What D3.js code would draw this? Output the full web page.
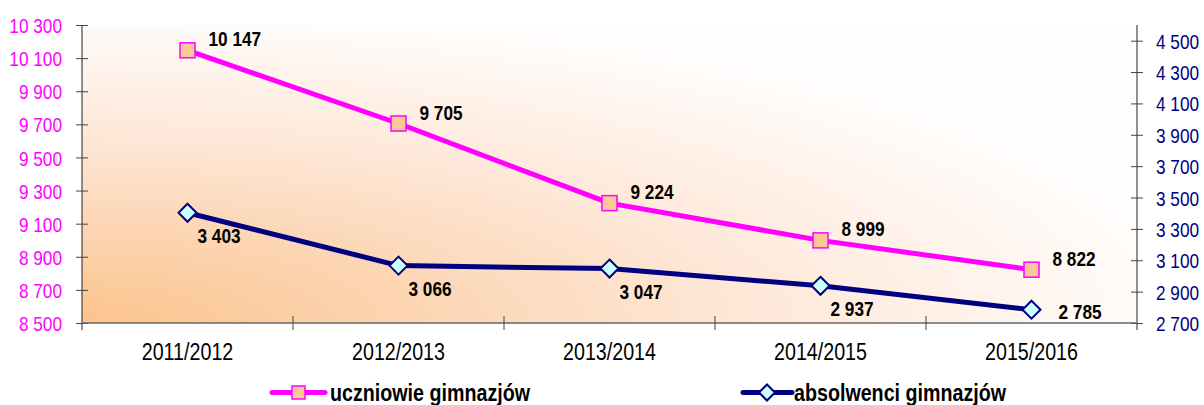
<!DOCTYPE html>
<html>
<head>
<meta charset="utf-8">
<script src="https://cdn.jsdelivr.net/npm/d3@7"></script>
<style>
  body { margin: 0; background: #fff; }
  svg { display: block; }
  text { font-family: "Liberation Sans", Arial, sans-serif; }
  .tickL { fill: #ff00ff; font-size: 21px; }
  .tickR { fill: #000080; font-size: 21px; }
  .cat { fill: #000; font-size: 24px; }
  .lbl { fill: #000; font-size: 21px; font-weight: bold; }
  .leg { fill: #000; font-size: 24px; font-weight: bold; }
</style>
</head>
<body>
<svg id="chart" width="1204" height="405"></svg>
<script>
var years = ['2011/2012', '2012/2013', '2013/2014', '2014/2015', '2015/2016'];
var uczniowie = [10147, 9705, 9224, 8999, 8822];
var absolwenci = [3403, 3066, 3047, 2937, 2785];
var leftTicks = [8500, 8700, 8900, 9100, 9300, 9500, 9700, 9900, 10100, 10300];
var rightTicks = [2700, 2900, 3100, 3300, 3500, 3700, 3900, 4100, 4300, 4500];
var seriesNames = ['uczniowie gimnazjów', 'absolwenci gimnazjów'];

var fmt = function(v){ return d3.format(',')(v).replace(/,/g, ' '); };
var NARROW = 0.82; // arial narrow look

var pLeft = 82, pRight = 1137, pTop = 25, pBottom = 323;
var svg = d3.select('#chart');

var x = d3.scaleBand().domain(years).range([pLeft, pRight]).paddingInner(0).paddingOuter(0);
var yL = d3.scaleLinear().domain([8500, 10300]).range([pBottom, pTop]);
var yR = d3.scaleLinear().domain([2700, 4600]).range([pBottom, pTop]);
var cx = function(d){ return x(d) + x.bandwidth()/2; };

function place(px, py){ return 'translate(' + px + ',' + py + ') scale(' + NARROW + ',1)'; }

// background gradient of plot area
var defs = svg.append('defs');
var grad = defs.append('radialGradient').attr('id', 'bg')
	.attr('cx', 0).attr('cy', 1).attr('r', 1.05).attr('fx', 0).attr('fy', 1);
grad.append('stop').attr('offset', '0%').attr('stop-color', '#fbc48c');
grad.append('stop').attr('offset', '30%').attr('stop-color', '#fcd5b3');
grad.append('stop').attr('offset', '62%').attr('stop-color', '#fee9da');
grad.append('stop').attr('offset', '100%').attr('stop-color', '#fffdfc');

svg.append('rect').attr('x', pLeft).attr('y', pTop)
	.attr('width', pRight-pLeft).attr('height', pBottom-pTop)
	.attr('fill', 'url(#bg)');

// left axis
var axL = d3.axisLeft(yL).tickValues(leftTicks).tickSize(6).tickSizeOuter(0).tickFormat(fmt);
var gL = svg.append('g').attr('transform', 'translate(' + pLeft + ',0)').call(axL);
gL.select('.domain').attr('d', 'M0,' + pTop + 'V' + (pBottom+7)).attr('stroke', '#222');
gL.selectAll('.tick line').attr('x1', -6).attr('x2', 6).attr('stroke', '#444');
gL.selectAll('.tick text').attr('class', 'tickL').attr('x', null).attr('dy', '0.36em')
	.attr('transform', place(-20, 0));

// right axis
var axR = d3.axisRight(yR).tickValues(rightTicks).tickSize(6).tickSizeOuter(0).tickFormat(fmt);
var gR = svg.append('g').attr('transform', 'translate(' + pRight + ',0)').call(axR);
gR.select('.domain').attr('d', 'M0,' + pTop + 'V' + (pBottom+7)).attr('stroke', '#222');
gR.selectAll('.tick line').attr('x1', -6).attr('x2', 6).attr('stroke', '#444');
gR.selectAll('.tick text').attr('class', 'tickR').attr('x', null).attr('dy', '0.36em')
	.attr('transform', place(19, 0));
svg.selectAll('.tick text').attr('font-family', null).attr('font-size', null);

// bottom axis
svg.append('line').attr('x1', pLeft).attr('x2', pRight).attr('y1', pBottom).attr('y2', pBottom)
	.attr('stroke', '#666').attr('stroke-width', 1.5);
svg.selectAll('.catTick').data(years.slice(1)).enter().append('line')
	.attr('x1', function(d){ return x(d); }).attr('x2', function(d){ return x(d); })
	.attr('y1', pBottom-7).attr('y2', pBottom+7).attr('stroke', '#444');
svg.selectAll('.cat').data(years).enter().append('text').attr('class', 'cat')
	.attr('transform', function(d){ return place(cx(d), 360); })
	.attr('text-anchor', 'middle').text(function(d){ return d; });

var line = d3.line();

// absolwenci (right axis)
var ptsA = years.map(function(d, i){ return [cx(d), yR(absolwenci[i])]; });
svg.append('path').attr('d', line(ptsA)).attr('fill', 'none')
	.attr('stroke', '#000080').attr('stroke-width', 5).attr('stroke-linejoin', 'round');

// uczniowie (left axis)
var ptsU = years.map(function(d, i){ return [cx(d), yL(uczniowie[i])]; });
svg.append('path').attr('d', line(ptsU)).attr('fill', 'none')
	.attr('stroke', '#ff00ff').attr('stroke-width', 5).attr('stroke-linejoin', 'round');

function square(g, px, py, s){
	g.append('rect').attr('x', px-s/2).attr('y', py-s/2).attr('width', s).attr('height', s)
		.attr('fill', '#fcc896').attr('stroke', '#ff00ff').attr('stroke-width', 1.5);
}
function diamond(g, px, py, s){
	g.append('path').attr('d', 'M' + px + ',' + (py-s/2) + 'L' + (px+s/2) + ',' + py + 'L' + px + ',' + (py+s/2) + 'L' + (px-s/2) + ',' + py + 'Z')
		.attr('fill', '#ccffff').attr('stroke', '#000080').attr('stroke-width', 2);
}

ptsA.forEach(function(p){ diamond(svg, p[0], p[1], 18); });
ptsU.forEach(function(p){ square(svg, p[0], p[1], 15); });

// data labels
svg.selectAll('.lblU').data(uczniowie).enter().append('text').attr('class', 'lbl')
	.attr('transform', function(d, i){ return place(ptsU[i][0] + 21, ptsU[i][1] - 4); })
	.text(fmt);
svg.selectAll('.lblA').data(absolwenci).enter().append('text').attr('class', 'lbl')
	.attr('transform', function(d, i){
		if(i == absolwenci.length-1) return place(ptsA[i][0] + 27, ptsA[i][1] + 9);
		return place(ptsA[i][0] + 10, ptsA[i][1] + 30);
	})
	.text(fmt);

// legend
var leg = svg.append('g');
leg.append('line').attr('x1', 272).attr('x2', 325).attr('y1', 392.5).attr('y2', 392.5)
	.attr('stroke', '#ff00ff').attr('stroke-width', 5).attr('stroke-linecap', 'round');
square(leg, 298.5, 392.5, 13);
leg.append('text').attr('class', 'leg').attr('transform', place(330, 401)).text(seriesNames[0]);

leg.append('line').attr('x1', 743).attr('x2', 792).attr('y1', 392.5).attr('y2', 392.5)
	.attr('stroke', '#000080').attr('stroke-width', 5).attr('stroke-linecap', 'round');
diamond(leg, 767, 392.5, 16);
leg.append('text').attr('class', 'leg').attr('transform', place(794, 401)).text(seriesNames[1]);
</script>
</body>
</html>
